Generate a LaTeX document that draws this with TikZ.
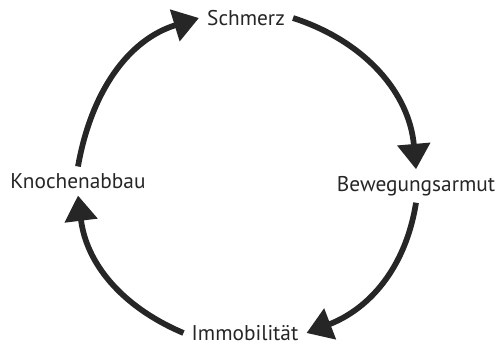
\documentclass[tikz,border=0pt]{standalone}
\usepackage{fontspec}
\setmainfont{PT Sans}
\usetikzlibrary{arrows.meta}

\begin{document}
\begin{tikzpicture}[
    x=0.75pt, y=0.75pt,
    stage/.style={
        text=black!85,
        inner xsep=6pt,
        inner ysep=5pt,
        font=\fontsize{16}{18}\selectfont
    },
    flow/.style={
        draw=black!85,
        line width=4.3pt,
        -{Triangle[length=19pt,width=24pt]}
    }
]
\useasboundingbox (0,0) rectangle (502,347);

% Nodes
\node [stage] (schmerz) at (246,329) {Schmerz};
\node [stage] (bewegung) at (416,161) {Bewegungsarmut};
\node [stage] (immob) at (245,14) {Immobilität};
\node [stage] (knochen) at (78,166) {Knochenabbau};

% Connections (clockwise)
\path [flow] (schmerz.east) to[out=-18, in=95] (bewegung.north);
\path [flow] (bewegung.south) to[out=-99, in=21] (immob.east);
\path [flow] (immob.west) to[out=157, in=-83] (knochen.south);
\path [flow] (knochen.north) to[out=80, in=-163] (schmerz.west);

\end{tikzpicture}
\end{document}
